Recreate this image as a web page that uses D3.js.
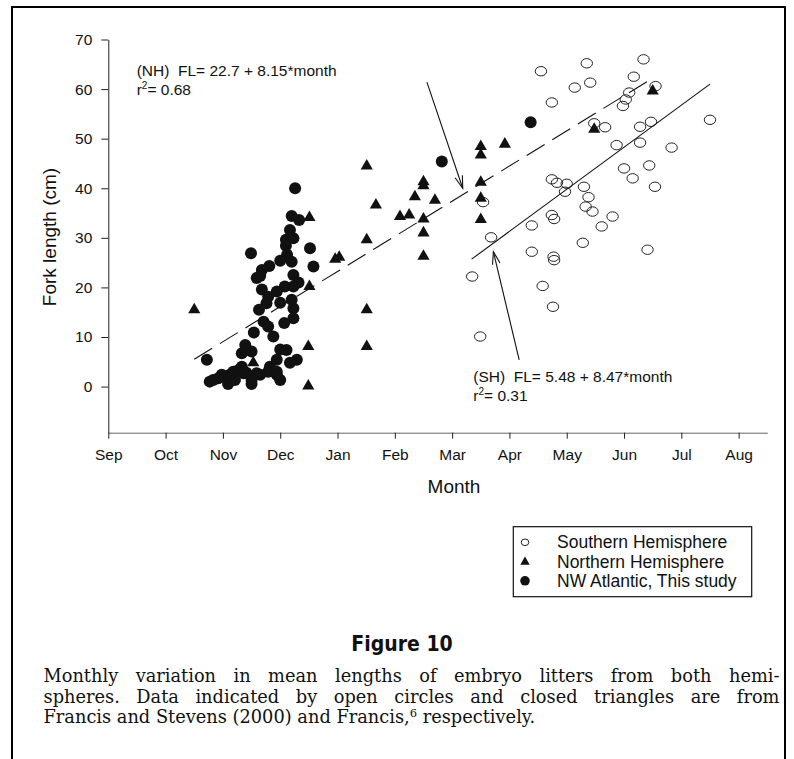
<!DOCTYPE html>
<html>
<head>
<meta charset="utf-8">
<script src="https://cdn.jsdelivr.net/npm/d3@7"></script>
<style>
  body { margin: 0; background: #fff; }
  svg { display: block; }
</style>
</head>
<body>
<svg id="chart"></svg>
<script>
// month axis: 0 = Sep 1, 1 = Oct 1 ... 11 = Aug 1
var monthLabels = ["Sep", "Oct", "Nov", "Dec", "Jan", "Feb", "Mar", "Apr", "May", "Jun", "Jul", "Aug"];
var forkTicks = [0, 10, 20, 30, 40, 50, 60, 70];

// [month, fork length (cm)]
var southern = [
  [6.35, 22.2], [6.49, 10.1], [6.54, 37.2], [6.68, 30.1], [7.39, 32.5], [7.39, 27.2],
  [7.55, 63.6], [7.58, 20.3], [7.74, 57.3], [7.74, 41.8], [7.83, 41.1], [7.74, 34.6],
  [7.78, 33.8], [7.77, 26.2], [7.78, 25.5], [7.76, 16.1], [7.97, 39.3], [8.00, 40.9],
  [8.14, 60.3], [8.28, 29.0], [8.30, 40.3], [8.33, 36.3], [8.35, 65.2], [8.38, 38.2],
  [8.41, 61.3], [8.45, 35.3], [8.48, 53.1], [8.61, 32.3], [8.67, 52.3], [8.80, 34.3],
  [8.87, 48.7], [8.98, 56.6], [9.00, 44.0], [9.03, 57.9], [9.09, 59.3], [9.15, 42.0],
  [9.17, 62.5], [9.28, 52.4], [9.28, 49.2], [9.34, 66.0], [9.41, 27.6], [9.44, 44.6],
  [9.47, 53.4], [9.54, 40.3], [9.55, 60.6], [9.83, 48.2], [10.50, 53.8]
];

var northern = [
  [1.50, 15.5], [2.53, 4.8], [3.49, 0.1], [3.49, 8.1], [3.51, 20.2], [3.51, 34.1],
  [3.96, 25.7], [4.03, 26.1], [4.51, 8.1], [4.51, 15.5], [4.51, 29.6], [4.51, 44.5],
  [4.67, 36.6], [5.09, 34.3], [5.25, 34.6], [5.35, 38.3], [5.50, 41.3], [5.50, 40.5],
  [5.50, 33.8], [5.50, 31.0], [5.50, 26.3], [5.70, 37.6], [6.50, 48.4], [6.50, 46.7],
  [6.50, 41.2], [6.50, 38.0], [6.50, 33.7], [6.92, 48.9], [8.48, 51.9], [9.50, 59.6]
];

var nwAtlantic = [
  [3.26, 40.0], [3.20, 34.4], [3.33, 33.6], [3.17, 31.6], [3.23, 29.9], [3.10, 29.6],
  [3.10, 28.4], [3.52, 27.9], [2.49, 26.9], [3.12, 26.6], [3.00, 25.4], [3.20, 25.2],
  [3.58, 24.2], [2.81, 24.3], [2.68, 23.5], [2.65, 22.3], [2.59, 21.9], [3.23, 22.5],
  [3.32, 21.0], [3.23, 20.2], [3.08, 20.2], [2.68, 19.6], [2.94, 19.2], [3.00, 16.9],
  [3.20, 17.5], [2.79, 18.1], [2.76, 16.8], [2.63, 15.5], [3.23, 15.8], [3.23, 13.8],
  [2.71, 13.1], [3.07, 12.8], [2.79, 12.1], [2.54, 10.9], [2.88, 10.1], [2.39, 8.4],
  [2.33, 6.7], [2.50, 7.1], [3.00, 7.5], [3.11, 7.4], [3.29, 5.4], [1.72, 5.4],
  [3.17, 4.8], [2.94, 5.4], [2.82, 4.0], [2.79, 3.0], [2.94, 3.0], [2.65, 2.4],
  [2.50, 1.35], [3.00, 1.35], [2.94, 2.4], [2.33, 4.0], [2.28, 3.4], [2.18, 3.0],
  [2.12, 2.4], [2.04, 2.0], [1.98, 2.4], [1.92, 1.7], [1.83, 1.35], [1.77, 1.0],
  [2.09, 0.5], [2.21, 1.35], [2.36, 2.7], [2.50, 0.5], [2.59, 2.7], [2.41, 2.8],
  [5.82, 45.4], [7.37, 53.3]
];

// regression lines and arrows, [month, fork length]
var nhFit = [[1.50, 5.5], [9.50, 62.2]];
var shFit = [[6.34, 25.7], [10.50, 61.0]];
var nhArrow = [[5.56, 61.4], [6.185, 40.0]];
var shArrow = [[7.17, 5.4], [6.72, 27.2]];

var legendLabels = ["Southern Hemisphere", "Northern Hemisphere", "NW Atlantic, This study"];

var captionLines = [
  "Monthly variation in mean lengths of embryo litters from both hemi-",
  "spheres. Data indicated by open circles and closed triangles are from"
];

var width = 794, height = 759;
var svg = d3.select("#chart").attr("width", width).attr("height", height);

svg.append("rect").attr("width", width).attr("height", height).attr("fill", "#fff");
// outer frame (bottom edge runs off the page)
svg.append("rect")
    .attr("x", 12).attr("y", 7).attr("width", 773).attr("height", 800)
    .attr("fill", "none").attr("stroke", "#000").attr("stroke-width", 2);

var x = d3.scaleLinear([0, 11.5], [108.3, 767.3]);
var y = d3.scaleLinear([-9.3, 70], [432.7, 39.5]);

var sans = "'Liberation Sans', Arial, sans-serif";

// x axis
svg.append("g")
    .attr("transform", "translate(0," + y(-9.3) + ")")
    .call(d3.axisBottom(x).tickValues(d3.range(12)).tickFormat(function(i) { return monthLabels[i]; })
        .tickSize(6).tickPadding(10).tickSizeOuter(0))
    .call(function(g) {
        g.select(".domain").attr("stroke", "#666");
        g.selectAll(".tick line").attr("stroke", "#222");
        g.selectAll("text").attr("font-family", sans).attr("font-size", 15.5).attr("fill", "#111");
    });

// y axis
svg.append("g")
    .attr("transform", "translate(" + x(0) + ",0)")
    .call(d3.axisLeft(y).tickValues(forkTicks).tickSize(7).tickPadding(9).tickSizeOuter(0))
    .call(function(g) {
        g.select(".domain").attr("stroke", "#222");
        g.selectAll(".tick line").attr("stroke", "#222");
        g.selectAll("text").attr("font-family", sans).attr("font-size", 15.5).attr("fill", "#111");
    });

svg.append("text")
    .attr("transform", "translate(49,237) rotate(-90)")
    .attr("text-anchor", "middle").attr("dy", "0.35em")
    .attr("font-family", sans).attr("font-size", 19).attr("fill", "#111")
    .text("Fork length (cm)");

svg.append("text")
    .attr("x", 454).attr("y", 486).attr("dy", "0.35em")
    .attr("text-anchor", "middle")
    .attr("font-family", sans).attr("font-size", 19).attr("fill", "#111")
    .text("Month");

// fitted lines
var line = d3.line().x(function(d) { return x(d[0]); }).y(function(d) { return y(d[1]); });
svg.append("path").attr("d", line(nhFit)).attr("fill", "none")
    .attr("stroke", "#111").attr("stroke-width", 1.1).attr("stroke-dasharray", "21,9");
svg.append("path").attr("d", line(shFit)).attr("fill", "none")
    .attr("stroke", "#111").attr("stroke-width", 1.1);

// points
svg.append("g").selectAll("ellipse").data(southern).join("ellipse")
    .attr("cx", function(d) { return x(d[0]); }).attr("cy", function(d) { return y(d[1]); })
    .attr("rx", 5.7).attr("ry", 4.7)
    .attr("fill", "none").attr("stroke", "#222").attr("stroke-width", 1);

svg.append("g").selectAll("circle").data(nwAtlantic).join("circle")
    .attr("cx", function(d) { return x(d[0]); }).attr("cy", function(d) { return y(d[1]); })
    .attr("r", 6).attr("fill", "#111");

var tri = d3.symbol().type(d3.symbolTriangle).size(64);
svg.append("g").selectAll("path").data(northern).join("path")
    .attr("d", tri)
    .attr("transform", function(d) { return "translate(" + x(d[0]) + "," + y(d[1]) + ")"; })
    .attr("fill", "#111");

// arrows with open heads
function arrow(pts) {
    var x0 = x(pts[0][0]), y0 = y(pts[0][1]), x1 = x(pts[1][0]), y1 = y(pts[1][1]);
    var a = Math.atan2(y1 - y0, x1 - x0), len = 13, spread = 0.3;
    var g = svg.append("g").attr("stroke", "#111").attr("stroke-width", 1.1).attr("fill", "none");
    g.append("line").attr("x1", x0).attr("y1", y0).attr("x2", x1).attr("y2", y1);
    g.append("path").attr("d", "M" + (x1 - len * Math.cos(a - spread)) + "," + (y1 - len * Math.sin(a - spread)) +
        "L" + x1 + "," + y1 +
        "L" + (x1 - len * Math.cos(a + spread)) + "," + (y1 - len * Math.sin(a + spread)));
}
arrow(nhArrow);
arrow(shArrow);

// equations
function equation(px, py, label, r2) {
    svg.append("text").attr("x", px).attr("y", py)
        .attr("font-family", sans).attr("font-size", 15.5).attr("fill", "#111")
        .attr("xml:space", "preserve")
        .text(label);
    var r = svg.append("text").attr("x", px).attr("y", py + 19)
        .attr("font-family", sans).attr("font-size", 15.5).attr("fill", "#111");
    r.append("tspan").text("r");
    r.append("tspan").attr("dy", -6).attr("font-size", 10).text("2");
    r.append("tspan").attr("dy", 6).text("= " + r2);
}
equation(136.7, 76, "(NH)  FL= 22.7 + 8.15*month", "0.68");
equation(473.3, 382, "(SH)  FL= 5.48 + 8.47*month", "0.31");

// legend
var lg = svg.append("g");
lg.append("rect").attr("x", 513.3).attr("y", 526.7).attr("width", 238.4).attr("height", 70)
    .attr("fill", "#fff").attr("stroke", "#111").attr("stroke-width", 1.2);
var rows = [542.3, 561.5, 580.8];
lg.append("ellipse").attr("cx", 525).attr("cy", rows[0]).attr("rx", 3.8).attr("ry", 3.3)
    .attr("fill", "none").attr("stroke", "#222");
lg.append("path").attr("d", d3.symbol().type(d3.symbolTriangle).size(38))
    .attr("transform", "translate(525," + (rows[1] + 0.5) + ")").attr("fill", "#111");
lg.append("circle").attr("cx", 525).attr("cy", rows[2]).attr("r", 4.8).attr("fill", "#111");
lg.selectAll("text.lab").data(legendLabels).join("text")
    .attr("class", "lab")
    .attr("x", 557).attr("y", function(d, i) { return rows[i]; }).attr("dy", "0.35em")
    .attr("font-family", sans).attr("font-size", 17.5).attr("fill", "#111")
    .text(function(d) { return d; });

// figure title and caption
svg.append("text")
    .attr("x", 402).attr("y", 651).attr("text-anchor", "middle")
    .attr("font-family", "'Liberation Sans Narrow', 'DejaVu Sans Condensed', sans-serif")
    .attr("font-weight", "bold").attr("font-size", 21).attr("fill", "#111")
    .text("Figure 10");

var serif = "'DejaVu Serif', 'Liberation Serif', serif";
var capLeft = 43.5, capWidth = 736, capTop = 682, capLead = 20.5;
var cap = svg.append("g").attr("font-family", serif).attr("font-size", 17.8).attr("fill", "#111");
captionLines.forEach(function(s, i) {
    var t = cap.append("text").attr("x", capLeft).attr("y", capTop + i * capLead).text(s);
    // justify by widening the word gaps
    var natural = t.node().getComputedTextLength();
    var gaps = s.split(" ").length - 1;
    if (natural < capWidth) {
        t.attr("word-spacing", (capWidth - natural) / gaps);
    } else {
        t.attr("textLength", capWidth).attr("lengthAdjust", "spacingAndGlyphs");
    }
});
var l3 = cap.append("text").attr("x", capLeft).attr("y", capTop + 2 * capLead);
l3.append("tspan").text("Francis and Stevens (2000) and Francis,");
l3.append("tspan").attr("dy", -6.5).attr("font-size", 11.5).text("6");
l3.append("tspan").attr("dy", 6.5).text(" respectively.");
</script>
</body>
</html>
